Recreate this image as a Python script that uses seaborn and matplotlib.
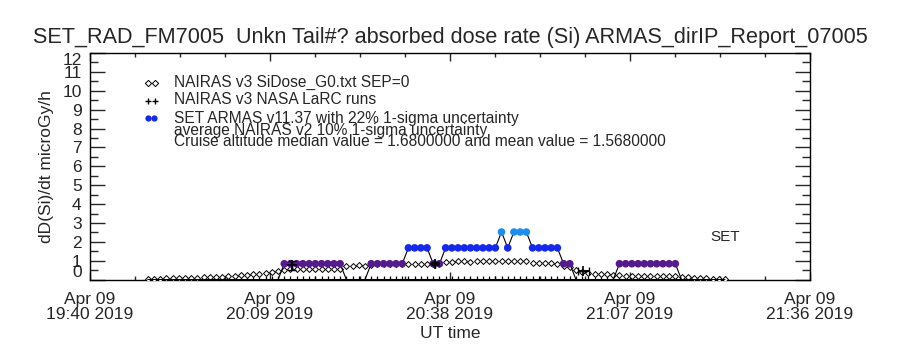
import numpy as np
import pandas as pd
import matplotlib
matplotlib.use("Agg")
import matplotlib.pyplot as plt
from matplotlib.ticker import MultipleLocator
import seaborn as sns

# ---------------- data ----------------
title = "SET_RAD_FM7005  Unkn Tail#? absorbed dose rate (Si) ARMAS_dirIP_Report_07005"
x_tick_minutes = [0, 29, 58, 87, 116]          # minutes after 19:40 UT
x_tick_labels = ["Apr 09\n19:40 2019", "Apr 09\n20:09 2019", "Apr 09\n20:38 2019",
                 "Apr 09\n21:07 2019", "Apr 09\n21:36 2019"]
y_ticks = [0, 1, 2, 3, 4, 5, 6, 7, 8, 9, 10, 11, 12]

# sample times (minutes after 19:40 UT), one sample per minute
sample_minutes = np.arange(9, 103) + 0.3

# SET ARMAS dose rate (microGy/h)
set_dose = [0, 0, 0, 0, 0, 0, 0, 0, 0, 0,
            0, 0, 0, 0, 0, 0, 0, 0, 0, 0,
            0, 0,
            0.84, 0.84, 0.84, 0.84, 0.84, 0.84, 0.84, 0.84, 0.84, 0.84,
            0, 0, 0, 0,
            0.84, 0.84, 0.84, 0.84, 0.84, 0.84,
            1.68, 1.68, 1.68, 1.68,
            0.84, 0.84,
            1.68, 1.68, 1.68, 1.68, 1.68, 1.68, 1.68, 1.68, 1.68,
            2.52, 1.68, 2.52, 2.52, 2.52,
            1.68, 1.68, 1.68, 1.68, 1.68,
            0.84, 0.84,
            0, 0, 0, 0, 0, 0, 0,
            0.84, 0.84, 0.84, 0.84, 0.84, 0.84, 0.84, 0.84, 0.84, 0.84,
            0, 0, 0, 0, 0, 0, 0, 0]

# NAIRAS v3 SiDose model values
nairas_dose = [0.03, 0.04, 0.05, 0.06, 0.07, 0.08, 0.09, 0.10, 0.11,
               0.12, 0.13, 0.14, 0.16, 0.18, 0.20, 0.22, 0.25, 0.28, 0.31, 0.34, 0.38, 0.44,
               0.52, 0.55, 0.56, 0.55, 0.56, 0.57, 0.56, 0.55, 0.56, 0.55,
               0.70, 0.74, 0.75, 0.74,
               0.78, 0.80, 0.80, 0.82, 0.83, 0.84,
               0.83, 0.84, 0.85, 0.84, 0.83, 0.85,
               0.95, 0.95, 0.96, 0.96, 0.95, 0.96, 0.97, 0.96, 0.96,
               1.00, 1.00, 0.99, 1.00, 0.98,
               0.88, 0.86, 0.86, 0.87, 0.85,
               0.74, 0.66,
               0.50, 0.42, 0.35, 0.30, 0.28, 0.30, 0.25,
               0.22, 0.20, 0.20, 0.21, 0.20, 0.19, 0.20, 0.20, 0.19, 0.18,
               0.14, 0.12, 0.10, 0.08, 0.07, 0.05, 0.04, 0.03]

# NAIRAS v3 NASA LaRC runs (floor values on the sample grid)
larc_floor = [0, 0, 0, 0, 0, 0, 0, 0, 0, 0,
              0, 0, 0, 0, 0, 0, 0, 0, 0, 0,
              0, 0, 0, 0, 0, 0, 0, 0, 0, 0,
              0, 0, 0, 0, 0, 0, 0, 0, 0, 0,
              0, 0, 0, 0, 0, 0, 0, 0, 0, 0,
              0, 0, 0, 0, 0, 0, 0, 0, 0, 0,
              0, 0, 0, 0, 0, 0, 0, 0, 0, 0,
              0, 0, 0, 0, 0, 0, 0, 0, 0, 0,
              0, 0, 0, 0, 0, 0, 0, 0, 0, 0,
              0, 0, 0, 0]
larc_minutes = [32.5, 55.6, 79.5]
larc_dose = [0.75, 0.83, 0.45]
larc_yerr = [0.22, 0.08, 0.0]
larc_xerr = [0.0, 0.0, 0.9]

legend_lines = ["NAIRAS v3 SiDose_G0.txt SEP=0",
                "NAIRAS v3 NASA LaRC runs",
                "SET ARMAS v11.37 with 22% 1-sigma uncertainty",
                "average NAIRAS v2 10% 1-sigma uncertainty",
                "Cruise altitude median value = 1.6800000 and mean value = 1.5680000"]

level_colors = {"zero": "black", "low": "#551A8B", "mid": "#1428EE", "high": "#1E8CF0"}

# ---------------- frame ----------------
def level(v):
    if v <= 0:
        return "zero"
    if v < 1.2:
        return "low"
    if v < 2.1:
        return "mid"
    return "high"

df_set = pd.DataFrame({"t": sample_minutes, "dose": set_dose})
df_set["level"] = [level(v) for v in df_set["dose"]]
df_nairas = pd.DataFrame({"t": sample_minutes, "dose": nairas_dose})
df_floor = pd.DataFrame({"t": sample_minutes, "dose": larc_floor})
df_larc = pd.DataFrame({"t": larc_minutes, "dose": larc_dose})

# ---------------- plot ----------------
sns.set_style("white")
plt.rcParams["font.family"] = ["Liberation Sans", "DejaVu Sans"]

fig = plt.figure(figsize=(9, 3.5), dpi=100)
ax = fig.add_axes([0.1, 1 - 279.6 / 350, 0.8, 226.6 / 350])

# NAIRAS diamonds
sns.scatterplot(data=df_nairas, x="t", y="dose", ax=ax, marker="D", s=9,
                facecolor="white", edgecolor="black", linewidth=0.7, zorder=3, legend=False)

# LaRC floor '+' markers and line
sns.lineplot(data=df_floor, x="t", y="dose", ax=ax, color="black", lw=1.5,
             estimator=None, sort=False, zorder=2, legend=False)
sns.scatterplot(data=df_floor, x="t", y="dose", ax=ax, marker="+", s=40,
                color="black", linewidth=0.9, zorder=2, legend=False)

# SET connecting line
sns.lineplot(data=df_set, x="t", y="dose", ax=ax, color="black", lw=0.8,
             estimator=None, sort=False, zorder=4, legend=False)
# SET colored points
df_set_pos = df_set[df_set["level"] != "zero"]
sns.scatterplot(data=df_set_pos, x="t", y="dose", hue="level", palette=level_colors,
                ax=ax, s=30, edgecolor="none", zorder=5, legend=False)

# LaRC runs with uncertainties
sns.scatterplot(data=df_larc, x="t", y="dose", ax=ax, marker="+", s=50,
                color="black", linewidth=1.2, zorder=6, legend=False)
ax.errorbar(larc_minutes, larc_dose, yerr=larc_yerr, xerr=larc_xerr, fmt="none",
            ecolor="black", elinewidth=1.2, capsize=3, zorder=6)

# axes
ax.set_xlim(0, 116)
ax.set_ylim(0, 12)
ax.set_xticks(x_tick_minutes)
ax.set_xticklabels(x_tick_labels, fontsize=12.5, linespacing=1.0)
ax.xaxis.set_minor_locator(MultipleLocator(7.25))
ax.set_yticks(y_ticks)
ax.set_yticklabels([str(v) for v in y_ticks], fontsize=12.5)
ax.yaxis.set_minor_locator(MultipleLocator(0.5))
ylabs = ax.get_yticklabels()
ylabs[0].set_va("bottom")
ylabs[-1].set_va("top")

ax.tick_params(axis="y", which="major", direction="in", length=11, width=1,
               left=True, right=True, pad=6)
ax.tick_params(axis="y", which="minor", direction="in", length=5.5, width=1,
               left=True, right=True)
ax.tick_params(axis="x", which="major", direction="in", length=6, width=1,
               bottom=True, top=True, pad=9)
ax.tick_params(axis="x", which="minor", direction="in", length=3, width=1,
               bottom=True, top=True)
for sp in ax.spines.values():
    sp.set_color("black")
    sp.set_linewidth(1)

ax.set_xlabel("UT time", fontsize=12.5, labelpad=3)
ax.set_ylabel("dD(Si)/dt microGy/h", fontsize=12.5, labelpad=6)

fig.text(0.5, 1 - 37 / 350, title, ha="center", va="center", fontsize=15.6)

# legend block
def fx(px):
    return (px - 90) / 720.0

def fy(py):
    return (279.6 - py) / 226.6

leg_y = [82, 100, 118, 131, 141]
for txt, py in zip(legend_lines, leg_y):
    ax.text(fx(174), fy(py), txt, transform=ax.transAxes, ha="left", va="center",
            fontsize=11.2)
ax.plot([fx(148), fx(155)], [fy(83), fy(83)], transform=ax.transAxes, ls="none",
        marker="D", ms=3.2, mfc="white", mec="black", mew=0.7, clip_on=False)
ax.plot([fx(148), fx(155)], [fy(101), fy(101)], transform=ax.transAxes, ls="none",
        marker="+", ms=5, color="black", mew=1, clip_on=False)
ax.plot([fx(148), fx(154)], [fy(118.5), fy(118.5)], transform=ax.transAxes, ls="none",
        marker="o", ms=4.5, color="#1428EE", mec="none", clip_on=False)

ax.text(102.3, 2.25, "SET", ha="center", va="center", fontsize=11)

fig.savefig("out.png", dpi=100)
